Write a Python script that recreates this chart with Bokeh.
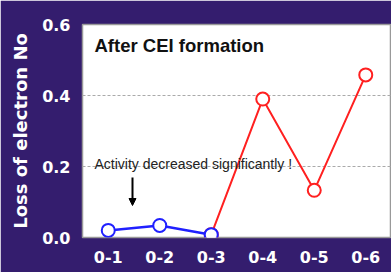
from bokeh.plotting import figure
from bokeh.models import FactorRange, Range1d, FixedTicker, Arrow, NormalHead, Label
from bokeh.embed import file_html
from bokeh.resources import INLINE

categories = ["0-1", "0-2", "0-3", "0-4", "0-5", "0-6"]
blue_cats = ["0-1", "0-2", "0-3"]
blue_vals = [0.020, 0.034, 0.008]
red_cats = ["0-3", "0-4", "0-5", "0-6"]
red_vals = [0.008, 0.390, 0.133, 0.458]
y_ticks = [0.0, 0.2, 0.4, 0.6]

BG = "#341d6e"

p = figure(width=391, height=272, output_backend="svg", toolbar_location=None,
           x_range=FactorRange(*categories, range_padding=0),
           y_range=Range1d(0, 0.6),
           min_border_left=82, min_border_right=0, min_border_top=24, min_border_bottom=35)
p.border_fill_color = BG
p.background_fill_color = "white"
p.outline_line_color = "#999999"
p.outline_line_width = 1.5

p.xgrid.grid_line_color = None
p.ygrid.grid_line_color = "#aaaaaa"
p.ygrid.grid_line_dash = "3 2"
p.ygrid.ticker = FixedTicker(ticks=[0.2, 0.4])

p.yaxis.ticker = FixedTicker(ticks=y_ticks)
p.yaxis.major_label_overrides = {t: f"{t:.1f}" for t in y_ticks}
for ax in (p.xaxis[0], p.yaxis[0]):
    ax.axis_line_color = None
    ax.major_tick_line_color = None
    ax.minor_tick_line_color = None
    ax.major_label_text_color = "white"
    ax.major_label_text_font = "DejaVu Sans"
    ax.major_label_text_font_style = "bold"
    ax.major_label_text_font_size = "16px"
p.xaxis.major_label_standoff = 7
p.yaxis.major_label_standoff = 6
p.yaxis.axis_label = "Loss of electron No"
p.yaxis.axis_label_text_color = "white"
p.yaxis.axis_label_text_font = "DejaVu Sans"
p.yaxis.axis_label_text_font_style = "bold"
p.yaxis.axis_label_text_font_size = "18px"
p.yaxis.axis_label_standoff = 8

p.line(red_cats, red_vals, line_color="#ff2020", line_width=2)
p.scatter(red_cats, red_vals, size=13, fill_color="white", line_color="#ff2020", line_width=2)
p.line(blue_cats, blue_vals, line_color="#2020ff", line_width=2.5)
p.scatter(blue_cats, blue_vals, size=13, fill_color="white", line_color="#2020ff", line_width=2)

p.add_layout(Label(x=12, y=192, x_units="screen", y_units="screen", text="After CEI formation",
                   text_font="Liberation Sans", text_font_style="bold", text_font_size="18.5px",
                   text_color="#111111", text_baseline="middle"))
p.add_layout(Label(x=12, y=74, x_units="screen", y_units="screen", text="Activity decreased significantly !",
                   text_font="Liberation Sans", text_font_size="14px",
                   text_color="#222222", text_baseline="middle"))
p.add_layout(Arrow(x_start=50, y_start=60, x_end=50, y_end=32, start_units="screen", end_units="screen",
                   line_width=2, line_color="black",
                   end=NormalHead(size=7, fill_color="black", line_color="black")))

open("out.html", "w").write(file_html(p, INLINE))
